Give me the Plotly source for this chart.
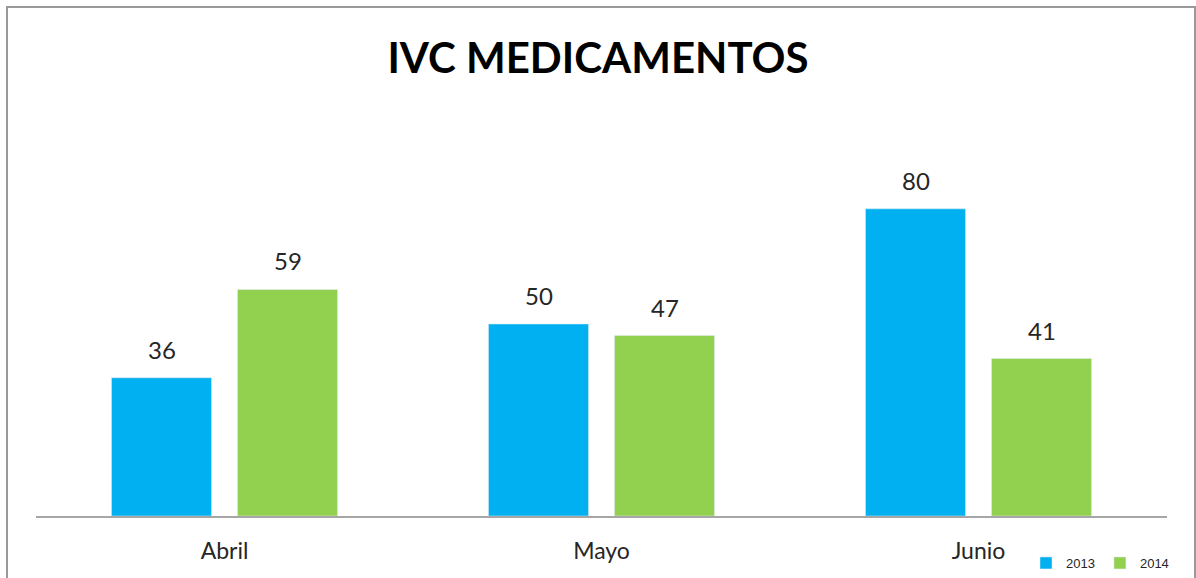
import plotly.graph_objects as go

categories = ["Abril", "Mayo", "Junio"]
series_names = ["2013", "2014"]
values_2013 = [36, 50, 80]
values_2014 = [59, 47, 41]
colors = ["#00B0F0", "#92D050"]

W, H = 1196, 578
ml, mr, mt, mb = 36, 29, 132, 62
pw, ph = W - ml - mr, H - mt - mb

FONT = "Lato, Open Sans, sans-serif"


def px_x(x):
    return (x - ml) / pw


def px_y(y):
    return (H - mb - y) / ph


fig = go.Figure()
for name, vals, col in zip(series_names, [values_2013, values_2014], colors):
    fig.add_trace(go.Bar(x=categories, y=vals, name=name, marker_color=col))

# value labels placed above each bar (offset of the grouped bar slot)
annotations = []
for i, vals in enumerate([values_2013, values_2014]):
    shift = -63 if i == 0 else 63
    for c, v in zip(categories, vals):
        annotations.append(dict(x=c, y=v, text=str(v), showarrow=False,
                                xshift=shift, yshift=12, yanchor="bottom",
                                font=dict(family=FONT, size=24, color="#262626")))

fig.update_layout(
    width=W, height=H,
    margin=dict(l=ml, r=mr, t=mt, b=mb, autoexpand=False),
    paper_bgcolor="white", plot_bgcolor="white",
    barmode="group", bargap=0.3316, bargroupgap=0.206,
    title=dict(text="<b>IVC MEDICAMENTOS</b>", x=0.5, xanchor="center",
               y=1 - 58 / H, yanchor="middle",
               font=dict(family=FONT, size=42, color="#000000")),
    xaxis=dict(showline=True, linecolor="#A6A6A6", linewidth=1.5, ticks="",
               ticklabelstandoff=14,
               tickfont=dict(family=FONT, size=23, color="#262626"),
               showgrid=False, zeroline=False),
    yaxis=dict(range=[0, 100], visible=False, showgrid=False, zeroline=False),
    legend=dict(orientation="h", x=px_x(1026), xanchor="left", y=px_y(563), yanchor="middle",
                font=dict(family="Liberation Sans, Arial, sans-serif", size=13, color="#262626"),
                bgcolor="rgba(0,0,0,0)"),
    showlegend=True,
    annotations=annotations,
    shapes=[dict(type="rect", xref="paper", yref="paper",
                 x0=px_x(7), x1=px_x(1195), y0=px_y(600), y1=px_y(7),
                 line=dict(color="#9A9A9A", width=2), layer="below")],
)

fig.write_html("out.html", config={"displayModeBar": False},
               post_script="document.body.style.margin='0';document.body.style.overflow='hidden';")
